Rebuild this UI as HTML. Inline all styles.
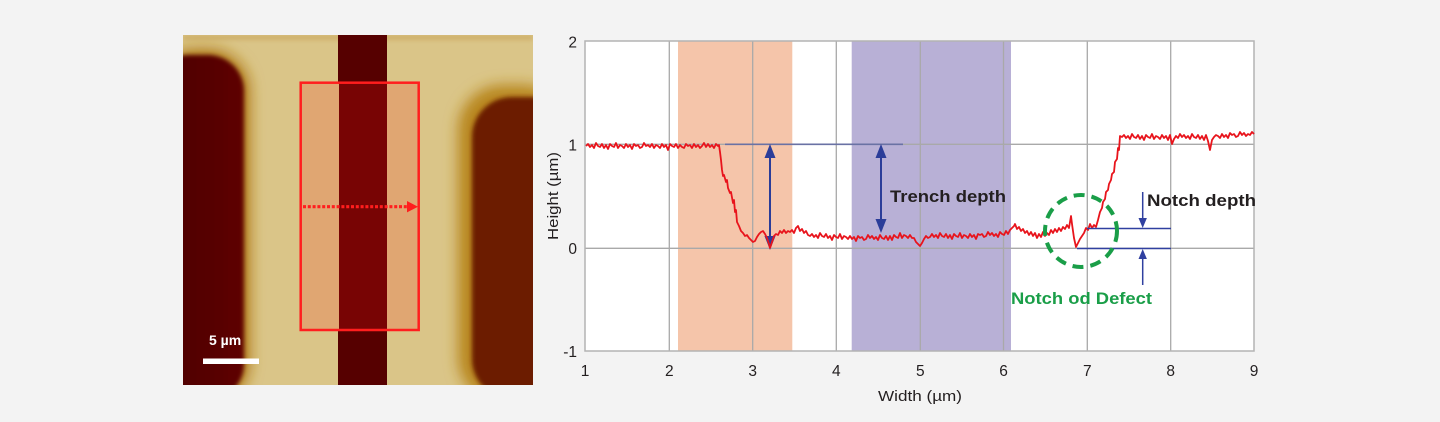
<!DOCTYPE html>
<html><head><meta charset="utf-8"><style>
html,body{margin:0;padding:0;background:#f3f3f3;width:1440px;height:422px;overflow:hidden;}
svg{display:block;}
text{font-family:"Liberation Sans",sans-serif;}
</style></head><body>
<svg width="1440" height="422" viewBox="0 0 1440 422" xmlns="http://www.w3.org/2000/svg">
<defs>
<filter id="b8" filterUnits="userSpaceOnUse" x="-60" y="-60" width="480" height="470"><feGaussianBlur stdDeviation="7"/></filter>
<filter id="b3" filterUnits="userSpaceOnUse" x="-60" y="-60" width="480" height="470"><feGaussianBlur stdDeviation="2"/></filter>
<clipPath id="ic"><rect x="0" y="0" width="350" height="350"/></clipPath>
<linearGradient id="lg" x1="0" x2="1" y1="0" y2="0"><stop offset="0" stop-color="#4a0000"/><stop offset="1" stop-color="#5e0600"/></linearGradient>
</defs>
<rect width="1440" height="422" fill="#f3f3f3"/>
<!-- AFM image -->
<g transform="translate(183,35)" clip-path="url(#ic)">
 <rect x="0" y="0" width="350" height="350" fill="#dac588"/>
 <rect x="0" y="0" width="350" height="5" fill="#cfb06a" filter="url(#b3)"/>
 <!-- left halo -->
 <rect x="-30" y="14" width="97" height="355" rx="42" fill="#b07a18" filter="url(#b8)"/>
 <rect x="-30" y="20" width="91" height="345" rx="36" fill="url(#lg)" filter="url(#b3)"/>
 <!-- right halo -->
 <rect x="275" y="50" width="110" height="318" rx="45" fill="#b8861e" filter="url(#b8)"/>
 <rect x="289" y="62" width="100" height="302" rx="40" fill="#6c1a02" filter="url(#b3)"/>
 <!-- center strip -->
 <rect x="155" y="0" width="49" height="350" fill="#560000"/>
 <!-- box overlay -->
 <rect x="117.7" y="47.7" width="118" height="247.3" fill="#e0a672"/>
 <rect x="156" y="47.7" width="48" height="247.3" fill="#780404"/>
 <rect x="117.7" y="47.7" width="118" height="247.3" fill="none" stroke="#ff1e1e" stroke-width="2.5"/>
 <line x1="120" y1="171.7" x2="226" y2="171.7" stroke="#ff1e1e" stroke-width="3.2" stroke-dasharray="3 1.8"/>
 <polygon points="224,166 235,171.7 224,177.4" fill="#ff1e1e"/>
 <!-- scale bar -->
 <rect x="20" y="323.5" width="56" height="5.5" fill="#ffffff"/>
 <text x="26" y="310" font-size="14" font-weight="bold" fill="#ffffff">5 µm</text>
</g>
<!-- chart -->
<rect x="585" y="41" width="669" height="310" fill="#ffffff"/>
<rect x="678" y="41" width="114.3" height="310" fill="#f5c5aa"/>
<rect x="851.7" y="41" width="159.3" height="310" fill="#b8b0d6"/>
<g stroke="#a9a9a9" stroke-width="1.3">
 <line x1="669.3" y1="41" x2="669.3" y2="351"/>
 <line x1="752.7" y1="41" x2="752.7" y2="351"/>
 <line x1="836.3" y1="41" x2="836.3" y2="351"/>
 <line x1="920.3" y1="41" x2="920.3" y2="351"/>
 <line x1="1003.5" y1="41" x2="1003.5" y2="351"/>
 <line x1="1087.3" y1="41" x2="1087.3" y2="351"/>
 <line x1="1170.7" y1="41" x2="1170.7" y2="351"/>
 <line x1="585" y1="144.3" x2="1254" y2="144.3"/>
 <line x1="585" y1="248.3" x2="1254" y2="248.3"/>
</g>
<rect x="585" y="41" width="669" height="310" fill="none" stroke="#b3b3b3" stroke-width="1.5"/>
<!-- tick labels -->
<g font-size="15.5" fill="#231f20">
 <text x="577" y="47.5" text-anchor="end">2</text>
 <text x="577" y="150.5" text-anchor="end">1</text>
 <text x="577" y="254" text-anchor="end">0</text>
 <text x="577" y="357" text-anchor="end">-1</text>
 <text x="585" y="376" text-anchor="middle">1</text>
 <text x="669.3" y="376" text-anchor="middle">2</text>
 <text x="752.7" y="376" text-anchor="middle">3</text>
 <text x="836.3" y="376" text-anchor="middle">4</text>
 <text x="920.3" y="376" text-anchor="middle">5</text>
 <text x="1003.5" y="376" text-anchor="middle">6</text>
 <text x="1087.3" y="376" text-anchor="middle">7</text>
 <text x="1170.7" y="376" text-anchor="middle">8</text>
 <text x="1254" y="376" text-anchor="middle">9</text>
</g>
<text x="920" y="401" font-size="15" fill="#231f20" text-anchor="middle" textLength="84" lengthAdjust="spacingAndGlyphs">Width (µm)</text>
<text transform="translate(558,196) rotate(-90)" x="0" y="0" font-size="15" fill="#231f20" text-anchor="middle" textLength="88" lengthAdjust="spacingAndGlyphs">Height (µm)</text>
<!-- trench depth annotations -->
<line x1="725" y1="144.3" x2="903" y2="144.3" stroke="#6a72a4" stroke-width="1.6"/>
<g fill="#2b3d99" stroke="#2b3d99">
 <line x1="770" y1="155" x2="770" y2="238" stroke-width="2"/>
 <polygon points="770,144 764.5,158 775.5,158" stroke="none"/>
 <polygon points="770,250 764.5,236 775.5,236" stroke="none"/>
 <line x1="881" y1="155" x2="881" y2="222" stroke-width="2"/>
 <polygon points="881,144 875.5,158 886.5,158" stroke="none"/>
 <polygon points="881,233 875.5,219 886.5,219" stroke="none"/>
</g>
<text x="890" y="202" font-size="17" font-weight="bold" fill="#231f20" textLength="116" lengthAdjust="spacingAndGlyphs">Trench depth</text>
<!-- trace -->
<polyline fill="none" stroke="#e8141c" stroke-width="1.8" stroke-linejoin="round" points="
586,146 588,144 590,147 592,145 594,148 596,143 598,146 600,147 602,144 604,148 606,145 608,149 610,144 612,146 614,147 616,143 618,148 620,145 622,146 624,148 626,144 628,147 630,145 632,149 634,144 636,146 638,145 640,148 642,147 644,143
646,146 648,145 650,147 652,144 654,148 656,145 658,146 660,148 662,144 664,147 666,145 668,150 670,144 672,146 674,147 676,144 678,148 680,145 682,147 684,148 686,144 688,146 690,145 692,148 694,144 696,147 698,145 700,148 702,146 704,143 706,147 708,144 710,147 712,145 714,148 716,144 718,146
719,145 720,152 721,160 722,170 723,176 724,175 726,182 727,180 728,188 730,193 731,192 733,203 734,200 735,212 736,210 737,222 739,226 741,231 743,233 745,236 747,235 749,238 751,240 753,242 755,241 757,237 759,234 761,232 763,231 765,234 767,238 769,244 770,248 772,242 774,236 776,234 778,235 780,231 782,233 784,230 786,233 788,231 790,232 792,230 794,233 796,228 798,226 800,231 802,229 804,233 806,231 808,235
810,236 812,234 814,237 816,235 818,238 820,233 822,236 824,237 826,234 828,238 830,236 832,240 834,235 836,237 838,238 840,234 842,239 844,236 846,237 848,239 850,236 852,239 854,237 856,241 858,236 860,238 862,237 864,240 866,239 868,235 870,238 872,236 874,239 876,237 878,240 880,235 882,238 884,239 886,236 888,240 890,236 892,240 894,235 896,237 898,238 900,233 902,238 904,235 906,236 908,238 910,235 912,238 914,238 916,242 918,244 920,246 922,243 924,239 926,236 928,238 930,237 932,234 934,237 936,235 938,238 940,233 942,236 944,237 946,234 948,238 950,235 952,239 954,234 956,236 958,237 960,233 962,238 964,235 966,236 968,238 970,234 972,237 974,235 976,239 978,234 980,235 982,234 984,237 986,236 988,232 990,235 992,233 994,236 996,234 998,237 1000,232 1002,234 1004,235 1006,231 1008,234 1010,230
1012,228 1014,226 1015,224 1017,229 1019,227 1021,231 1023,229 1025,233 1027,231 1029,235 1031,232 1033,236 1035,233 1037,238 1039,234 1041,237 1043,232 1045,236 1047,233 1049,235 1051,230 1053,233 1055,229 1057,232 1059,228 1061,231 1063,227 1065,229 1067,225 1069,228 1071,216 1072,224 1074,238 1076,247 1078,243 1080,239 1082,236 1084,233 1086,228 1088,230 1090,224 1092,228 1094,225 1096,227 1098,220 1100,212 1102,208 1103,202 1105,199 1106,192 1108,190 1109,184 1111,180 1112,174 1114,172 1115,162 1117,159 1118,148 1119,150 1120,136
1122,137 1124,135 1126,138 1128,136 1130,139 1132,134 1134,137 1136,138 1138,135 1140,139 1142,136 1144,140 1146,135 1148,137 1150,138 1152,134 1154,139 1156,136 1158,137 1160,139 1162,135 1164,138 1166,136 1168,140 1170,135 1172,144 1174,139 1176,136 1178,138 1180,134
1182,137 1184,135 1186,138 1188,136 1190,139 1192,134 1194,137 1196,138 1198,135 1200,139 1202,136 1204,140 1206,135 1208,141 1210,150 1212,140 1214,137 1216,135 1218,136 1220,138 1222,134 1224,137 1226,135 1228,138 1230,133 1232,135 1234,134 1236,137 1238,136 1240,132 1242,135 1244,133 1246,136 1248,134 1250,135 1252,132 1254,134"/>
<!-- notch annotations -->
<g stroke="#3040a0" stroke-width="1.5">
 <line x1="1087" y1="228.5" x2="1171" y2="228.5"/>
 <line x1="1077" y1="248.5" x2="1171" y2="248.5"/>
 <line x1="1142.7" y1="192" x2="1142.7" y2="222"/>
 <line x1="1142.7" y1="255" x2="1142.7" y2="285"/>
</g>
<g fill="#3040a0">
 <polygon points="1142.7,228 1138.5,218 1146.9,218"/>
 <polygon points="1142.7,249 1138.5,259 1146.9,259"/>
</g>
<text x="1147" y="206" font-size="17" font-weight="bold" fill="#231f20" textLength="109" lengthAdjust="spacingAndGlyphs">Notch depth</text>
<circle cx="1081" cy="231" r="36" fill="none" stroke="#1a9e48" stroke-width="4" stroke-dasharray="11 7"/>
<text x="1011" y="304" font-size="17" font-weight="bold" fill="#1a9e48" textLength="141" lengthAdjust="spacingAndGlyphs">Notch od Defect</text>
</svg>
</body></html>
